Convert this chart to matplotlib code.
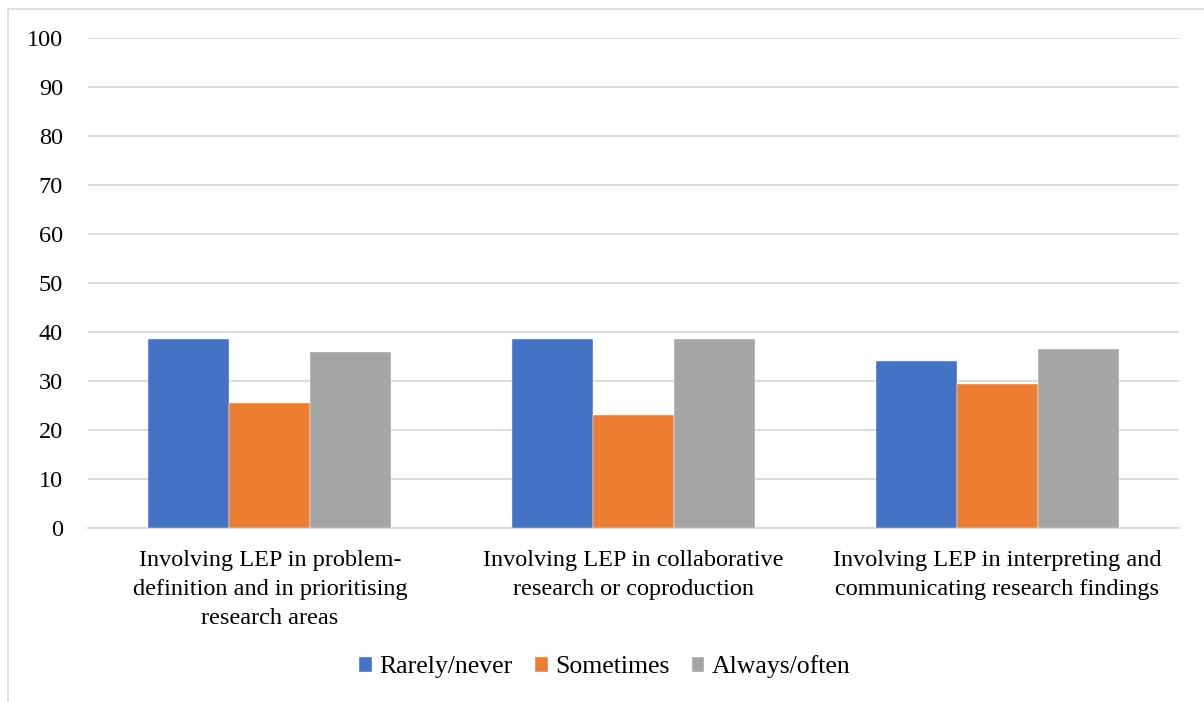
import numpy as np
import matplotlib
matplotlib.use("Agg")
import matplotlib.pyplot as plt
from matplotlib.patches import Rectangle

categories = [
    "Involving LEP in problem-\ndefinition and in prioritising\nresearch areas",
    "Involving LEP in collaborative\nresearch or coproduction",
    "Involving LEP in interpreting and\ncommunicating research findings",
]
series_names = ["Rarely/never", "Sometimes", "Always/often"]
rarely = [38.5, 38.5, 34.1]
sometimes = [25.6, 23.1, 29.3]
always = [35.9, 38.5, 36.6]
colors = ["#4472C4", "#ED7D31", "#A5A5A5"]
yticks = [0, 10, 20, 30, 40, 50, 60, 70, 80, 90, 100]

plt.rcParams["font.family"] = ["Liberation Serif", "DejaVu Serif"]
FS = 17.5

W, H = 1204, 702
fig = plt.figure(figsize=(W / 100, H / 100), dpi=100)
ax = fig.add_axes([88 / W, 1 - 528 / H, (1179 - 88) / W, (528 - 38) / H])

# outer chart frame (light grey)
fig.patches.append(Rectangle((8 / W, -0.1), 1.2, 1.1 - 9 / H, transform=fig.transFigure,
                             fill=False, edgecolor="#D9D9D9", linewidth=1.2))

x = np.arange(len(categories))
bw = 0.2225
for i, (vals, name) in enumerate(zip([rarely, sometimes, always], series_names)):
    ax.bar(x + (i - 1) * bw, vals, width=bw, color=colors[i], label=name,
           edgecolor="white", linewidth=0.3, zorder=3)

ax.set_xlim(-0.5, 2.5)
ax.set_ylim(0, 100)
ax.set_yticks(yticks)
ax.yaxis.grid(True, color="#D9D9D9", linewidth=1.3, zorder=0)
ax.tick_params(axis="y", length=0, pad=18, labelsize=FS, labelcolor="black")
ax.set_xticks(x)
ax.set_xticklabels(categories, fontsize=FS, linespacing=1.48)
ax.tick_params(axis="x", length=0, pad=16)
for s in ["top", "right", "left"]:
    ax.spines[s].set_visible(False)
ax.spines["bottom"].set_color("#D9D9D9")
ax.spines["bottom"].set_linewidth(1.3)

fig.legend(loc="center", bbox_to_anchor=(605 / W, 1 - 667 / H), ncol=3, frameon=False,
           fontsize=18.5, handlelength=0.5, handleheight=0.5, handletextpad=0.3,
           columnspacing=0.85)

fig.savefig("out.png", dpi=100)
